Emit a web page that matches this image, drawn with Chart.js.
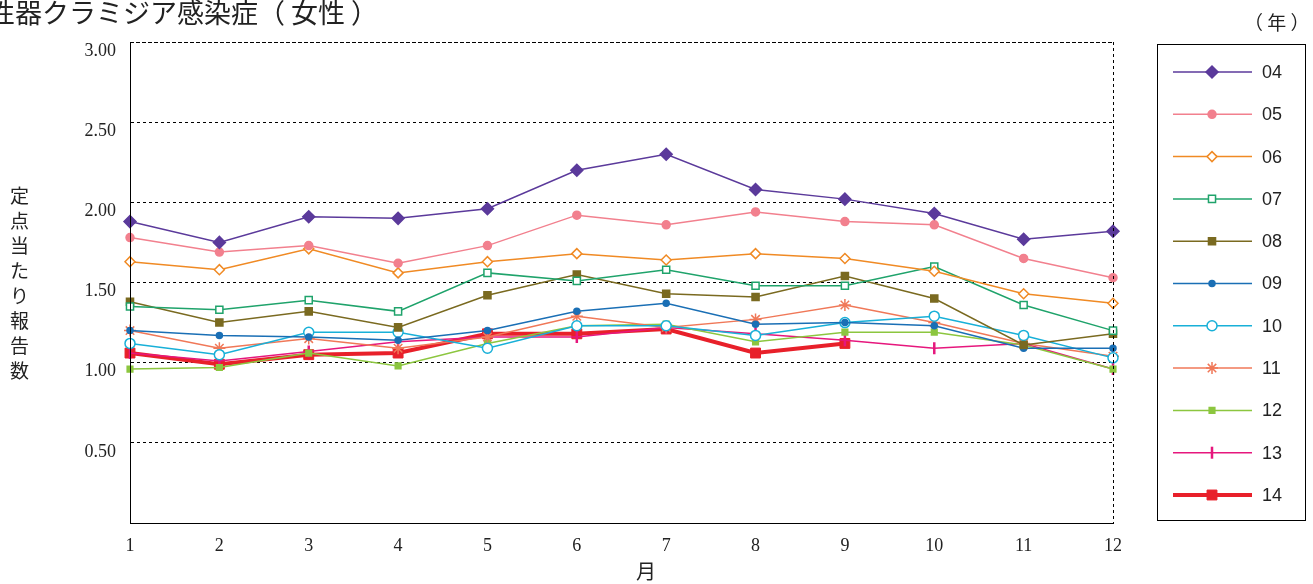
<!DOCTYPE html>
<html><head><meta charset="utf-8">
<script src="https://cdn.jsdelivr.net/npm/chart.js@4.4.0/dist/chart.umd.js"></script>
<style>
body{margin:0;background:#fff;font-family:"Noto Sans CJK JP",sans-serif;overflow:hidden}
#wrap{position:relative;width:1313px;height:584px}
.t{position:absolute;color:#222;white-space:nowrap}
</style></head><body>
<div id="wrap">
<canvas id="c" width="1313" height="584"></canvas>
<div class="t" style="left:-12px;top:-8px;font-size:27px">性器クラミジア感染症（ 女性 ）</div>
<div class="t" style="left:1244px;top:8px;font-size:19px">（ 年 ）</div>
<div class="t" style="left:10px;top:182px;font-size:19px;width:22px;line-height:25px;white-space:normal">定点当たり報告数</div>
<div class="t" style="left:636px;top:556px;font-size:20px">月</div>
</div>
<script>
const months = ['1','2','3','4','5','6','7','8','9','10','11','12'];
const years = ['04','05','06','07','08','09','10','11','12','13','14'];
const y04 = [1.88,1.75,1.91,1.90,1.96,2.20,2.30,2.08,2.02,1.93,1.77,1.82];
const y05 = [1.78,1.69,1.73,1.62,1.73,1.92,1.86,1.94,1.88,1.86,1.65,1.53];
const y06 = [1.63,1.58,1.71,1.56,1.63,1.68,1.64,1.68,1.65,1.57,1.43,1.37];
const y07 = [1.35,1.33,1.39,1.32,1.56,1.51,1.58,1.48,1.48,1.60,1.36,1.20];
const y08 = [1.38,1.25,1.32,1.22,1.42,1.55,1.43,1.41,1.54,1.40,1.11,1.18];
const y09 = [1.20,1.17,1.16,1.14,1.20,1.32,1.37,1.24,1.25,1.23,1.09,1.09];
const y10 = [1.12,1.05,1.19,1.19,1.09,1.23,1.23,1.17,1.25,1.29,1.17,1.03];
const y11 = [1.20,1.09,1.15,1.09,1.16,1.29,1.22,1.27,1.36,1.25,1.12,1.04];
const y12 = [0.96,0.97,1.06,0.98,1.12,1.23,1.24,1.13,1.19,1.19,1.11,0.96];
const y13 = [1.06,1.01,1.07,1.13,1.16,1.16,1.22,1.18,1.14,1.09,1.12,0.96];
const y14 = [1.06,0.99,1.05,1.06,1.18,1.18,1.21,1.06,1.12,null,null,null];
const yTicks = [0.5,1,1.5,2,2.5,3];

const series = [
 {d:y04,c:'#5b3a9b',s:'rectRot',r:6,f:true,w:1.5},
 {d:y05,c:'#f2808e',s:'circle',r:4,f:true,w:1.5},
 {d:y06,c:'#f08a24',s:'rectRot',r:5,f:false,w:1.5},
 {d:y07,c:'#1fa36b',s:'rect',r:5,f:false,w:1.5},
 {d:y08,c:'#7a6a20',s:'rect',r:5,f:true,w:1.5},
 {d:y09,c:'#1a6fb5',s:'circle',r:3,f:true,w:1.5},
 {d:y10,c:'#18b0d8',s:'circle',r:5,f:false,w:1.5},
 {d:y11,c:'#f07858',s:'star',r:6,f:false,w:1.5},
 {d:y12,c:'#8cc63f',s:'rect',r:4,f:true,w:1.5},
 {d:y13,c:'#e6177d',s:'line',r:6,f:false,w:1.5,rot:90},
 {d:y14,c:'#e8202a',s:'rect',r:7,f:true,w:4}
];
const datasets = series.map((s,i)=>({
 label:years[i], data:s.d, borderColor:s.c, borderWidth:s.w,
 backgroundColor:s.f?s.c:'#fff', pointStyle:s.s, pointRadius:s.r,
 pointRotation:s.rot||0, pointBorderWidth:s.s==='line'?2.5:(s.w>2?1:1.5),
 tension:0, spanGaps:false
}));

const legendPlugin = {
 id:'lg',
 afterDraw(chart){
  const ctx=chart.ctx;
  ctx.save();
  ctx.strokeStyle='#000';ctx.lineWidth=1;
  ctx.strokeRect(1157.5,44.5,148,476);
  datasets.forEach((ds,i)=>{
   const y=72+i*42.3;
   ctx.strokeStyle=ds.borderColor;ctx.lineWidth=ds.borderWidth;
   ctx.beginPath();ctx.moveTo(1173,y);ctx.lineTo(1252,y);ctx.stroke();
   ctx.fillStyle=ds.backgroundColor;ctx.lineWidth=ds.pointBorderWidth;
   Chart.helpers.drawPoint(ctx,{pointStyle:ds.pointStyle,radius:ds.pointRadius,rotation:ds.pointRotation,borderWidth:ds.pointBorderWidth},1212,y);
   ctx.fillStyle='#222';ctx.font='18px "Liberation Sans",Arial';ctx.textBaseline='middle';
   ctx.fillText(ds.label,1262,y+1);
  });
  const a=chart.chartArea;
  ctx.strokeStyle='#000';ctx.lineWidth=1;ctx.setLineDash([3,3]);
  ctx.beginPath();ctx.moveTo(a.left,a.top+0.5);ctx.lineTo(a.right,a.top+0.5);
  ctx.moveTo(a.right+0.5,a.top);ctx.lineTo(a.right+0.5,a.bottom);ctx.stroke();
  ctx.setLineDash([]);
  ctx.beginPath();ctx.moveTo(a.left+0.5,a.top);ctx.lineTo(a.left+0.5,a.bottom);ctx.stroke();
  ctx.restore();
 }
};

new Chart(document.getElementById('c'),{
 type:'line',
 data:{labels:months,datasets},
 options:{
  responsive:false,animation:false,
  layout:{padding:{top:42,right:200,left:0,bottom:0}},
  plugins:{legend:{display:false},tooltip:{enabled:false}},
  scales:{
   x:{offset:false,afterFit(s){s.height=61;},
      grid:{display:false,drawTicks:false},border:{color:'#000',width:1},
      ticks:{color:'#222',padding:12,maxRotation:0,font:{family:'"Liberation Serif",serif',size:18}}},
   y:{min:0,max:3,afterFit(s){s.width=130;},
      afterBuildTicks(s){s.ticks=yTicks.map(v=>({value:v}));},
      grid:{color:'#000',drawTicks:false,lineWidth:1},
      border:{color:'#000',width:1,dash:[3,3]},
      ticks:{color:'#222',padding:14,labelOffset:9,callback:v=>v.toFixed(2),font:{family:'"Liberation Serif",serif',size:18}}}
  }
 },
 plugins:[legendPlugin]
});
</script>
</body></html>
